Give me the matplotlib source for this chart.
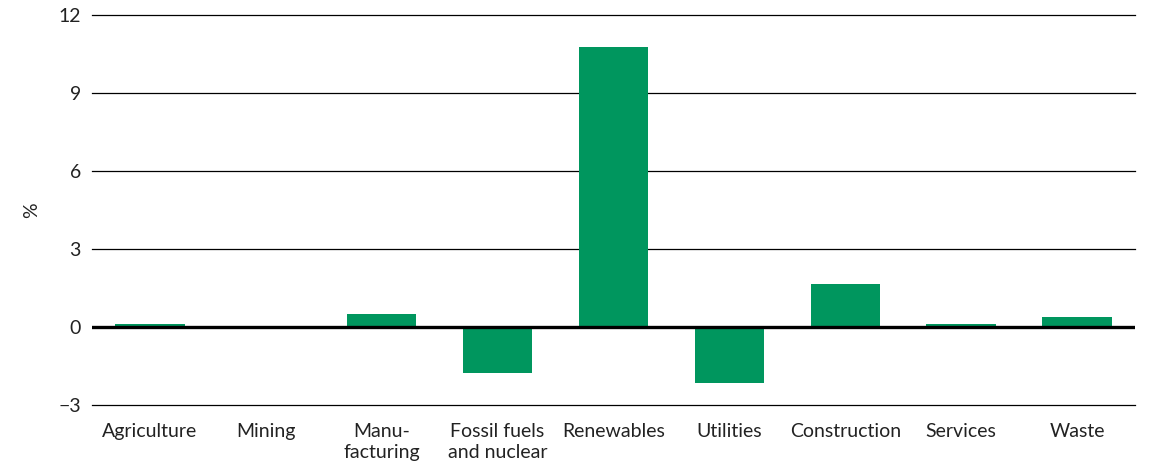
import matplotlib
matplotlib.use("Agg")
import matplotlib.pyplot as plt

categories = ["Agriculture", "Mining", "Manu-\nfacturing", "Fossil fuels\nand nuclear",
              "Renewables", "Utilities", "Construction", "Services", "Waste"]
values = [0.1, 0.0, 0.5, -1.78, 10.78, -2.14, 1.65, 0.12, 0.4]
yticks = [-3, 0, 3, 6, 9, 12]
ytick_labels = ["\u22123", "0", "3", "6", "9", "12"]

plt.rcParams['font.family'] = ['Lato', 'DejaVu Sans']

fig = plt.figure(figsize=(11.73, 4.75), dpi=100)
ax = fig.add_axes([92/1173, 1 - 405/475, (1135 - 92)/1173, (405 - 15)/475])

x = list(range(len(categories)))
ax.bar(x, values, width=0.6, color="#00965E", zorder=2)

ax.set_xlim(-0.5, len(categories) - 0.5)
ax.set_ylim(-3, 12)
ax.set_yticks(yticks)
ax.set_yticklabels(ytick_labels)
ax.set_xticks(x)
ax.set_xticklabels(categories, linespacing=1.25, va='top')

for t in yticks:
    if t == 0:
        continue
    ax.axhline(t, color="black", linewidth=0.9, zorder=1, clip_on=False)
ax.axhline(0, color="black", linewidth=2.4, zorder=3)

for s in ax.spines.values():
    s.set_visible(False)
ax.tick_params(axis='both', length=0, labelsize=14, colors="#222222")
ax.tick_params(axis='y', pad=8)
ax.tick_params(axis='x', pad=13)

ax.set_ylabel("%", fontsize=14, color="#222222")
ax.yaxis.set_label_coords(-52/1043, 0.5)

fig.savefig("out.png", dpi=100)
